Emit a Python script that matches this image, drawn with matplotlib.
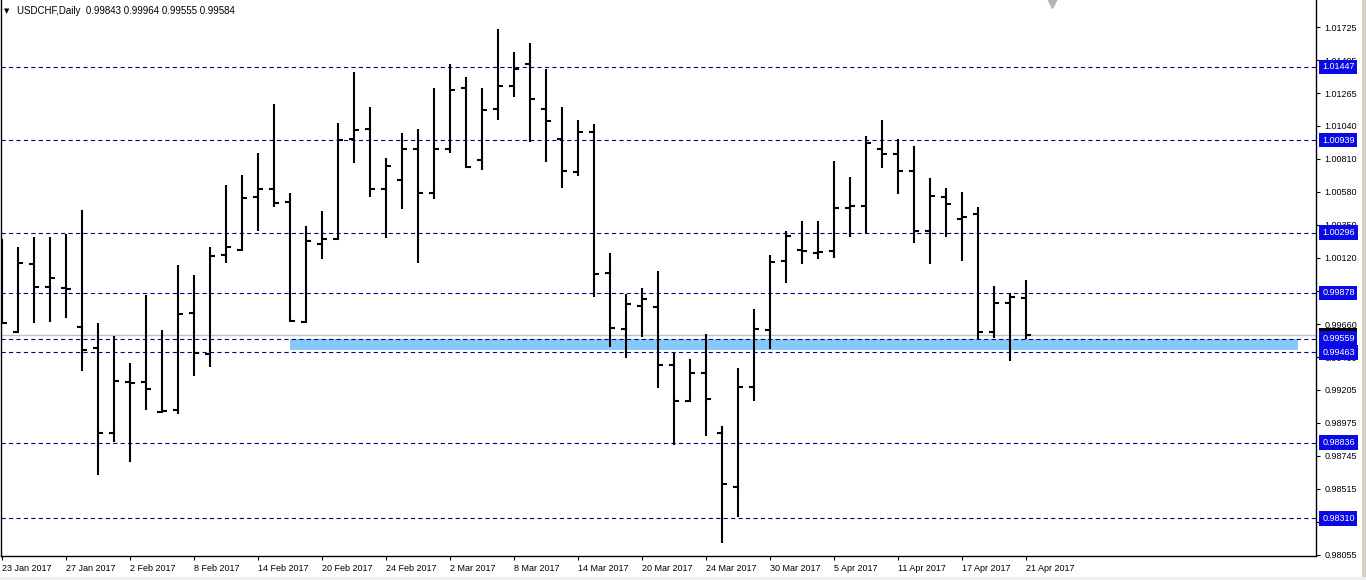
import matplotlib
matplotlib.use('Agg')
import matplotlib.pyplot as plt
import matplotlib.transforms as mtransforms
from matplotlib.patches import Rectangle

# daily USDCHF bars, 23 Jan 2017 .. 21 Apr 2017
opens = [0.99900, 0.99605, 1.00076, 0.99920, 0.99911, 0.99642, 0.99496, 0.98905, 0.99257, 0.99257,
         0.99049, 0.99063, 0.99735, 0.99452, 1.00140, 1.00175, 1.00541, 1.00601, 1.00511, 0.99674,
         1.00215, 1.00249, 1.00947, 1.01014, 1.00599, 1.00662, 1.00875, 1.00568, 1.00875, 1.01303,
         1.00800, 1.01155, 1.01315, 1.01470, 1.01155, 1.00949, 1.00719, 1.00997, 1.00017, 0.99628,
         0.99788, 0.99781, 0.99376, 0.99125, 0.99322, 0.98901, 0.98530, 0.99225, 0.99619, 1.00099,
         1.00175, 1.00156, 1.00168, 1.00469, 1.00483, 1.00879, 1.00840, 1.00726, 1.00309, 1.00546,
         1.00388, 1.00425, 0.99607, 0.99809, 0.99843]
highs = [1.00251, 1.00194, 1.00263, 1.00263, 1.00286, 1.00453, 0.99665, 0.99577, 0.99387, 0.99864,
         0.99619, 1.00069, 0.99999, 1.00194, 1.00627, 1.00696, 1.00851, 1.01190, 1.00571, 1.00342,
         1.00446, 1.01060, 1.01410, 1.01167, 1.00812, 1.00986, 1.01016, 1.01299, 1.01468, 1.01375,
         1.01299, 1.01711, 1.01549, 1.01612, 1.01431, 1.01167, 1.01079, 1.01049, 1.00152, 0.99869,
         0.99909, 1.00029, 0.99461, 0.99417, 0.99591, 0.98952, 0.99353, 0.99763, 1.00138, 1.00307,
         1.00377, 1.00377, 1.00794, 1.00680, 1.00967, 1.01079, 1.00944, 1.00898, 1.00673, 1.00604,
         1.00578, 1.00476, 0.99925, 0.99878, 0.99964]
lows = [0.99660, 0.99596, 0.99665, 0.99677, 0.99700, 0.99336, 0.98611, 0.98838, 0.98699, 0.99063,
        0.99040, 0.99033, 0.99301, 0.99364, 1.00083, 1.00168, 1.00309, 1.00472, 0.99677, 0.99668,
        1.00110, 1.00244, 1.00777, 1.00541, 1.00256, 1.00458, 1.00085, 1.00527, 1.00847, 1.00747,
        1.00731, 1.01079, 1.01236, 1.00924, 1.00789, 1.00604, 1.00689, 0.99850, 0.99503, 0.99422,
        0.99568, 0.99214, 0.98820, 0.99116, 0.98884, 0.98136, 0.98317, 0.99127, 0.99485, 0.99948,
        1.00078, 1.00112, 1.00117, 1.00268, 1.00284, 1.00747, 1.00564, 1.00222, 1.00078, 1.00268,
        1.00101, 0.99554, 0.99561, 0.99406, 0.99555]
closes = [0.99668, 1.00083, 0.99920, 0.99982, 0.99906, 0.99480, 0.98905, 0.99264, 0.99252, 0.99209,
          0.99054, 0.99732, 0.99457, 1.00133, 1.00198, 1.00534, 1.00597, 1.00504, 0.99681, 1.00240,
          1.00249, 1.00940, 1.01009, 1.00599, 1.00761, 1.00875, 1.00568, 1.00879, 1.01287, 1.00754,
          1.01148, 1.01315, 1.01433, 1.01225, 1.01074, 1.00724, 1.00997, 1.00006, 0.99635, 0.99798,
          0.99832, 0.99376, 0.99125, 0.99322, 0.99141, 0.98548, 0.99221, 0.99629, 1.00094, 1.00274,
          1.00170, 1.00163, 1.00469, 1.00483, 1.00919, 1.00840, 1.00726, 1.00309, 1.00552, 1.00495,
          1.00406, 0.99607, 0.99804, 0.99850, 0.99584]

date_ticks = [0, 4, 8, 12, 16, 20, 24, 28, 32, 36, 40, 44, 48, 52, 56, 60, 64]
date_labels = ['23 Jan 2017', '27 Jan 2017', '2 Feb 2017', '8 Feb 2017', '14 Feb 2017',
               '20 Feb 2017', '24 Feb 2017', '2 Mar 2017', '8 Mar 2017', '14 Mar 2017',
               '20 Mar 2017', '24 Mar 2017', '30 Mar 2017', '5 Apr 2017', '11 Apr 2017',
               '17 Apr 2017', '21 Apr 2017']
price_ticks = [1.01725, 1.01495, 1.01265, 1.01040, 1.00810, 1.00580, 1.00350, 1.00120, 0.99890,
               0.99660, 0.99430, 0.99205, 0.98975, 0.98745, 0.98515, 0.98285, 0.98055]

levels = [1.01447, 1.00939, 1.00296, 0.99878, 0.99559, 0.99463, 0.98836, 0.98310]
bid = 0.99584
zone_top = 0.99559
zone_bottom = 0.99480
zone_from = 18
zone_to = 81

plt.rcParams['font.family'] = ['Liberation Sans', 'DejaVu Sans']

fig = plt.figure(figsize=(13.66, 5.8), dpi=100)
fig.patch.set_facecolor('white')
ax = fig.add_axes([1 / 1366, 24 / 580, 1315 / 1366, 556 / 580])

x = list(range(len(opens)))
ax.add_patch(Rectangle((zone_from, zone_bottom), zone_to - zone_from, zone_top - zone_bottom,
                       facecolor='#87c8fa', edgecolor='none', zorder=1))
ax.axhline(bid, color='#c0c0c0', lw=1, zorder=1.5)
for lv in levels:
    ax.axhline(lv, color='#000080', lw=0.8, ls=(0, (3.8, 2.9)), zorder=2)

ax.vlines(x, lows, highs, color='black', lw=1.5, zorder=3)
ax.hlines(opens, [i - 0.32 for i in x], x, color='black', lw=1.5, zorder=3)
ax.hlines(closes, x, [i + 0.32 for i in x], color='black', lw=1.5, zorder=3)

ax.set_xlim(-0.044, 82.14)
ax.set_ylim(0.980479, 1.019127)

ax.yaxis.tick_right()
ax.set_yticks(price_ticks)
ax.set_yticklabels(['%.5f' % p for p in price_ticks])
ax.set_xticks(date_ticks)
ax.set_xticklabels(date_labels)
for lab in ax.get_xticklabels():
    lab.set_ha('left')
ax.tick_params(axis='y', direction='out', length=3, width=0.8, pad=3, labelsize=6.5)
ax.tick_params(axis='x', direction='out', length=3, width=0.8, pad=3, labelsize=6.5)

for s in ['left', 'bottom', 'right']:
    ax.spines[s].set_linewidth(1)
    ax.spines[s].set_color('black')
ax.spines['top'].set_visible(False)

# price labels on the right
trans = mtransforms.blended_transform_factory(ax.transAxes, ax.transData)
ax.text(1.0047, bid, '%.5f' % bid, transform=trans, ha='left', va='center', fontsize=6.5,
        color='white', clip_on=False, zorder=4,
        bbox=dict(boxstyle='square,pad=0.3', fc='black', ec='none'))
for lv in levels:
    ax.text(1.0047, lv, '%.5f' % lv, transform=trans, ha='left', va='center', fontsize=6.5,
            color='white', clip_on=False, zorder=5,
            bbox=dict(boxstyle='square,pad=0.3', fc='#0a0ae6', ec='none'))

# chart shift marker
ax.plot([65.64], [0.994], marker='v', color='#b4b4b4', ms=7,
        transform=ax.get_xaxis_transform(), clip_on=False)

title = 'USDCHF,Daily  %.5f %.5f %.5f %.5f' % (opens[-1], highs[-1], lows[-1], closes[-1])
fig.text(4 / 1366, 1 - 11 / 580, '\u25bc', fontsize=5, va='center', family=['DejaVu Sans'])
fig.text(17 / 1366, 1 - 11 / 580, title, fontsize=7, va='center')

fig.patches.append(Rectangle((1362 / 1366, 0), 4 / 1366, 1, transform=fig.transFigure,
                             facecolor='#d4d0c8', edgecolor='none'))
fig.patches.append(Rectangle((0, 0), 1, 3 / 580, transform=fig.transFigure,
                             facecolor='#f0f0f0', edgecolor='none'))

fig.savefig('out.png', dpi=100)
